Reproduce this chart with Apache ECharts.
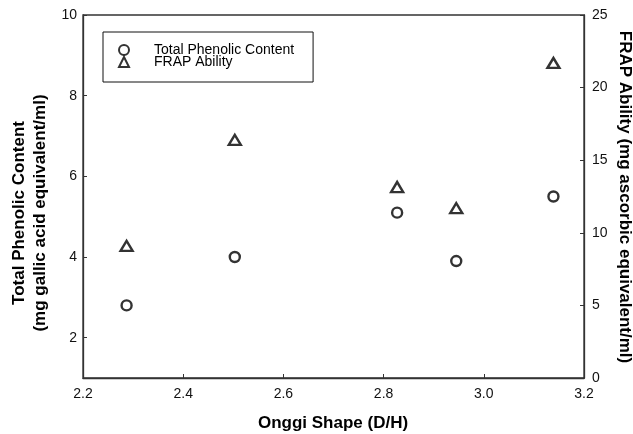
<!DOCTYPE html>
<html>
<head>
<meta charset="utf-8">
<script src="https://cdn.jsdelivr.net/npm/echarts@6/dist/echarts.min.js"></script>
<style>
  html, body { margin: 0; padding: 0; background: #fff; }
  #chart { width: 633px; height: 434px; }
</style>
</head>
<body>
<div id="chart"></div>
<script>
// onggi shape ratios (D/H)
const shapeRatio = [2.287, 2.503, 2.827, 2.945, 3.139]
// total phenolic content, mg gallic acid eq/ml
const phenolic = [2.8, 4.0, 5.1, 3.9, 5.5]
// FRAP ability, mg ascorbic eq/ml
const frap = [9.1, 16.4, 13.15, 11.7, 21.7]
const leftTicks = [2, 4, 6, 8, 10]

const font = 'Liberation Sans, Arial, sans-serif'
const axisColor = '#333'

const chart = echarts.init(document.getElementById('chart'))

const mark = {
  color: '#fff',
  borderColor: '#000',
  borderWidth: 2.4
}

const titleStyle = {
  fontFamily: font, fontSize: 17, fontWeight: 'bold',
  fill: '#000', align: 'center', verticalAlign: 'middle'
}

chart.setOption({
  animation: false,
  backgroundColor: '#fff',
  textStyle: { fontFamily: font },
  grid: {
    left: 83, right: 49, top: 15, bottom: 56,
    show: true, borderColor: axisColor, borderWidth: 1.3
  },
  legend: {
    left: 103, top: 32,
    orient: 'vertical',
    padding: [11, 19, 13, 15],
    borderColor: '#111', borderWidth: 1,
    itemWidth: 10, itemHeight: 10, itemGap: -2,
    textStyle: { fontSize: 14, color: '#000', padding: [0, 0, 0, 20], lineHeight: 10 },
    data: ['Total Phenolic Content', 'FRAP Ability']
  },
  xAxis: {
    type: 'value', min: 2.2, max: 3.2, interval: 0.2,
    axisLine: { show: true, lineStyle: { color: axisColor, width: 1.3 } },
    axisTick: { show: true, inside: true, length: 4, lineStyle: { color: axisColor } },
    axisLabel: { fontSize: 14, color: '#111', margin: 9, formatter: v => v.toFixed(1) },
    splitLine: { show: false }
  },
  yAxis: [
    {
      type: 'value', min: 1, max: 10,
      axisLine: { show: true, lineStyle: { color: axisColor, width: 1.3 } },
      axisTick: { show: true, inside: true, length: 4, customValues: leftTicks, lineStyle: { color: axisColor } },
      axisLabel: { fontSize: 14, color: '#111', margin: 6, customValues: leftTicks },
      splitLine: { show: false }
    },
    {
      type: 'value', min: 0, max: 25, interval: 5, position: 'right',
      axisLine: { show: true, lineStyle: { color: axisColor, width: 1.3 } },
      axisTick: { show: true, inside: true, length: 4, lineStyle: { color: axisColor } },
      axisLabel: { fontSize: 14, color: '#111', margin: 8 },
      splitLine: { show: false }
    }
  ],
  series: [
    {
      name: 'Total Phenolic Content',
      type: 'scatter',
      yAxisIndex: 0,
      symbol: 'circle',
      symbolSize: 10,
      itemStyle: mark,
      data: shapeRatio.map((x, i) => [x, phenolic[i]])
    },
    {
      name: 'FRAP Ability',
      type: 'scatter',
      yAxisIndex: 1,
      symbol: 'triangle',
      symbolSize: [12, 10],
      itemStyle: mark,
      data: shapeRatio.map((x, i) => [x, frap[i]])
    }
  ],
  graphic: [
    { type: 'text', x: 333, y: 423, style: { ...titleStyle, text: 'Onggi Shape (D/H)' } },
    { type: 'text', x: 19, y: 213, rotation: Math.PI / 2, style: { ...titleStyle, text: 'Total Phenolic Content' } },
    { type: 'text', x: 40, y: 213, rotation: Math.PI / 2, style: { ...titleStyle, text: '(mg gallic acid equivalent/ml)' } },
    { type: 'text', x: 625, y: 197, rotation: -Math.PI / 2, style: { ...titleStyle, text: 'FRAP Ability (mg ascorbic equivalent/ml)' } }
  ]
})
</script>
</body>
</html>
